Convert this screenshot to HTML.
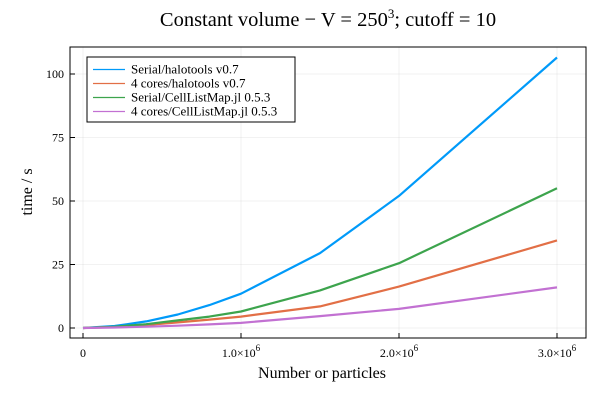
<!DOCTYPE html>
<html><head><meta charset="utf-8"><style>
body{margin:0;background:#fff}
svg text{font-family:"Liberation Serif",serif;fill:#000}
</style></head><body>
<svg id="chart" width="600" height="400" viewBox="0 0 600 400" xmlns="http://www.w3.org/2000/svg">
<text x="328" y="26" font-size="20.5" text-anchor="middle">Constant volume − V = 250<tspan font-size="13" dy="-8">3</tspan><tspan dy="8">;  cutoff = 10</tspan></text>
<g id="grid"></g>
<g id="axes"></g>
<g id="series"></g>
<text x="322" y="378" font-size="16" text-anchor="middle">Number or particles</text>
<text transform="translate(32,192) rotate(-90)" font-size="16" text-anchor="middle">time / s</text>
<g>
<rect x="87" y="57" width="208" height="65" fill="#fff" stroke="#000" stroke-width="1"/>
<g id="legend-entries"></g>
</g>
</svg>
<script>
const xs = [0, 0.2e6, 0.4e6, 0.6e6, 0.8e6, 1.0e6, 1.5e6, 2.0e6, 3.0e6];
const serialHalo = [0, 0.8, 2.6, 5.3, 9, 13.5, 29.5, 52, 106.5];
const coresHalo = [0, 0.4, 1.2, 2.2, 3.3, 4.5, 8.5, 16.3, 34.5];
const serialCLM = [0, 0.5, 1.5, 3, 4.5, 6.5, 14.8, 25.5, 55];
const coresCLM = [0, 0.2, 0.5, 0.9, 1.4, 2, 4.7, 7.5, 16];
const seriesNames = ["Serial/halotools v0.7", "4 cores/halotools v0.7", "Serial/CellListMap.jl 0.5.3", "4 cores/CellListMap.jl 0.5.3"];
const yTicks = [0, 25, 50, 75, 100];
const xTicks = [0, 1e6, 2e6, 3e6];
const xTickLabels = ["0", "1.0×10", "2.0×10", "3.0×10"];

const NS = "http://www.w3.org/2000/svg";
const L = 70, R = 586, T = 47, B = 338;
const xScale = v => 83 + v * (557 - 83) / 3e6;
const yScale = v => 328 - v * (328 - 74) / 100;
function mk(tag, attrs, parent) { const e = document.createElementNS(NS, tag); for (const k in attrs) e.setAttribute(k, attrs[k]); parent.appendChild(e); return e; }
const grid = document.getElementById('grid'), axes = document.getElementById('axes'), ser = document.getElementById('series');
yTicks.forEach(t => {
  const y = yScale(t);
  const g = mk('line', {x1: L, x2: R, y1: y, y2: y, stroke: '#000', 'stroke-opacity': 0.1, 'stroke-width': 0.5}, grid);
  
  
  mk('line', {x1: L, x2: L + 5, y1: y, y2: y, stroke: '#000'}, axes);
  const tx = mk('text', {x: L - 6, y: y + 4, 'font-size': 12, 'text-anchor': 'end'}, axes);
  tx.textContent = t;
  
  
});
xTicks.forEach((t, i) => {
  const x = xScale(t);
  const g = mk('line', {x1: x, x2: x, y1: T, y2: B, stroke: '#000', 'stroke-opacity': 0.1, 'stroke-width': 0.5}, grid);
  
  
  mk('line', {x1: x, x2: x, y1: B, y2: B - 5, stroke: '#000'}, axes);
  const tx = mk('text', {x: x, y: B + 19, 'font-size': 12, 'text-anchor': 'middle'}, axes);
  tx.textContent = xTickLabels[i];
  if (i > 0) { const sp = mk('tspan', {'font-size': 9, dy: -6}, tx); sp.textContent = '6'; }
  
  
});
mk('rect', {x: L, y: T, width: R - L, height: B - T, fill: 'none', stroke: '#000', 'stroke-width': 1}, axes);
const data = [serialHalo, coresHalo, serialCLM, coresCLM];
const colors = ['#009af9', '#e26f46', '#3da44d', '#c271d2'];
const lineNames = ['line-serial-halotools', 'line-4cores-halotools', 'line-serial-celllistmap', 'line-4cores-celllistmap'];
data.forEach((d, s) => {
  const pts = d.map((v, i) => xScale(xs[i]).toFixed(1) + ',' + yScale(v).toFixed(1)).join(' ');
  const p = mk('polyline', {points: pts, fill: 'none', stroke: colors[s], 'stroke-width': 2.2, 'stroke-linejoin': 'round'}, ser);
  
  
});
const le = document.getElementById('legend-entries');
seriesNames.forEach((n, i) => {
  const y = 69.5 + i * 14;
  mk('line', {x1: 93, x2: 125, y1: y, y2: y, stroke: colors[i], 'stroke-width': 1.2}, le);
  const t = mk('text', {x: 131, y: y + 4, 'font-size': 13}, le);
  t.textContent = n;
  
  
});
</script>
</body></html>
